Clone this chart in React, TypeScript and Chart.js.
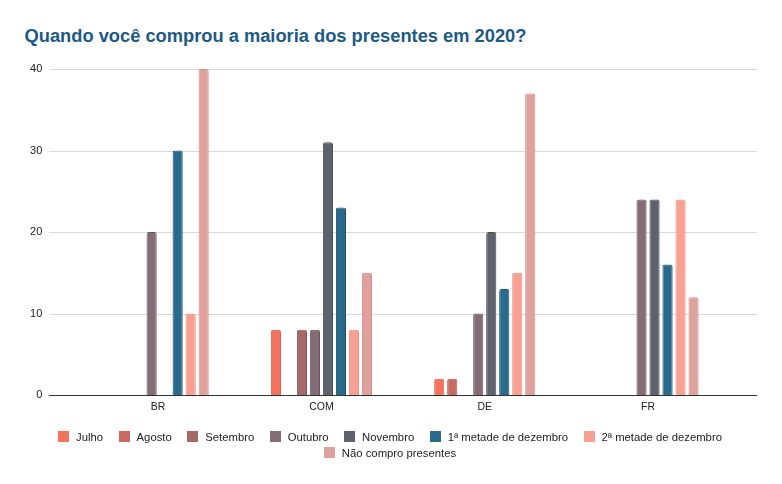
import React, { useEffect, useRef } from "react";
import { Chart, registerables, ChartOptions, Plugin } from "chart.js";

Chart.register(...registerables);

const FONT = "'Liberation Sans', Arial, sans-serif";

const countries = ["BR", "COM", "DE", "FR"];
const seriesNames = [
  "Julho",
  "Agosto",
  "Setembro",
  "Outubro",
  "Novembro",
  "1ª metade de dezembro",
  "2ª metade de dezembro",
  "Não compro presentes",
];
// null = nenhuma resposta
const julho = [null, 8, 2, null];
const agosto = [null, null, 2, null];
const setembro = [null, 8, null, null];
const outubro = [20, 8, 10, 24];
const novembro = [null, 31, 20, 24];
const dezembro1 = [30, 23, 13, 16];
const dezembro2 = [10, 8, 15, 24];
const naoCompro = [40, 15, 37, 12];
const yTicks = [0, 10, 20, 30, 40];

const fills = ["#f4735f", "#c96a62", "#a66969", "#846d76", "#5e626c", "#2a6a8c", "#f8a193", "#dfa19b"];
const borders = ["#e25f4c", "#b45952", "#8e5656", "#6c5760", "#484c55", "#1b4f6b", "#ee8e80", "#d18f89"];

const seriesValues = [julho, agosto, setembro, outubro, novembro, dezembro1, dezembro2, naoCompro];

// gridlines run wider than the category band, like the original sheet chart
const GRID_LEFT = 49;
const GRID_RIGHT = 757;

const wideGrid: Plugin<"bar"> = {
  id: "wideGrid",
  beforeDatasetsDraw(chart) {
    const y = chart.scales.y;
    const ctx = chart.ctx;
    ctx.save();
    ctx.strokeStyle = "#d9d9d9";
    ctx.lineWidth = 1;
    y.ticks.forEach((t) => {
      if (t.value === 0) return;
      const py = Math.round(y.getPixelForValue(t.value)) + 0.5;
      ctx.beginPath();
      ctx.moveTo(GRID_LEFT, py);
      ctx.lineTo(GRID_RIGHT, py);
      ctx.stroke();
    });
    ctx.restore();
  },
  afterDatasetsDraw(chart) {
    const y = chart.scales.y;
    const ctx = chart.ctx;
    const py = Math.round(y.getPixelForValue(0)) + 0.5;
    ctx.save();
    ctx.strokeStyle = "#333333";
    ctx.lineWidth = 1.2;
    ctx.beginPath();
    ctx.moveTo(GRID_LEFT, py);
    ctx.lineTo(GRID_RIGHT, py);
    ctx.stroke();
    ctx.restore();
  },
};

export default function App() {
  const canvasRef = useRef<HTMLCanvasElement | null>(null);

  useEffect(() => {
    if (!canvasRef.current) return;

    const options: ChartOptions<"bar"> = {
      responsive: false,
      animation: false,
      layout: { padding: { left: 24, right: 52.3, top: 69, bottom: 67 } },
      plugins: {
        legend: { display: false },
        tooltip: { enabled: false },
      },
      datasets: {
        bar: { categoryPercentage: 0.637, barPercentage: 0.78 },
      },
      scales: {
        x: {
          grid: { display: false, drawTicks: false },
          border: { display: false },
          ticks: { color: "#222", font: { family: FONT, size: 10.5 }, padding: 5.5 },
          afterFit: (scale) => {
            scale.height = 22;
          },
        },
        y: {
          min: 0,
          max: 40,
          grid: { display: false, drawTicks: false },
          border: { display: false },
          afterBuildTicks: (scale) => {
            scale.ticks = yTicks.map((v) => ({ value: v }));
          },
          ticks: { color: "#222", font: { family: FONT, size: 11 }, padding: 34.2 },
          afterFit: (scale) => {
            scale.width = 52.5;
          },
        },
      },
    };

    const chart = new Chart(canvasRef.current, {
      type: "bar",
      data: {
        labels: countries,
        datasets: seriesNames.map((name, i) => ({
          label: name,
          data: seriesValues[i],
          backgroundColor: fills[i],
          borderColor: borders[i],
          borderWidth: 1,
          borderRadius: 2,
        })),
      },
      options,
      plugins: [wideGrid],
    });

    return () => chart.destroy();
  }, []);

  const row1 = seriesNames.slice(0, 7);
  const row2 = seriesNames.slice(7);

  const legendRow = (names: string[], offset: number, top: number) => (
    <div
      style={{
        position: "absolute",
        left: 0,
        width: 780,
        top,
        height: 16,
        display: "flex",
        justifyContent: "center",
        alignItems: "center",
        gap: 15.5,
      }}
    >
      {names.map((n, j) => (
        <div key={n} style={{ display: "flex", alignItems: "center" }}>
          <span
            style={{
              display: "inline-block",
              width: 11,
              height: 11,
              background: fills[offset + j],
              marginRight: 7,
            }}
          />
          <span style={{ fontSize: 11.3, color: "#222", whiteSpace: "nowrap" }}>{n}</span>
        </div>
      ))}
    </div>
  );

  return (
    <div
      style={{
        position: "fixed",
        left: 0,
        top: 0,
        width: 782,
        height: 484,
        background: "#fff",
        fontFamily: FONT,
        overflow: "hidden",
      }}
    >
      <div
        style={{
          position: "absolute",
          left: 24.5,
          top: 26.5,
          fontSize: 18.3,
          lineHeight: "18px",
          fontWeight: "bold",
          color: "#1c5a84",
          whiteSpace: "nowrap",
        }}
      >
        Quando você comprou a maioria dos presentes em 2020?
      </div>
      <canvas ref={canvasRef} width={782} height={484} style={{ position: "absolute", left: 0, top: 0 }} />
      {legendRow(row1, 0, 428.7)}
      {legendRow(row2, 7, 444.7)}
    </div>
  );
}
